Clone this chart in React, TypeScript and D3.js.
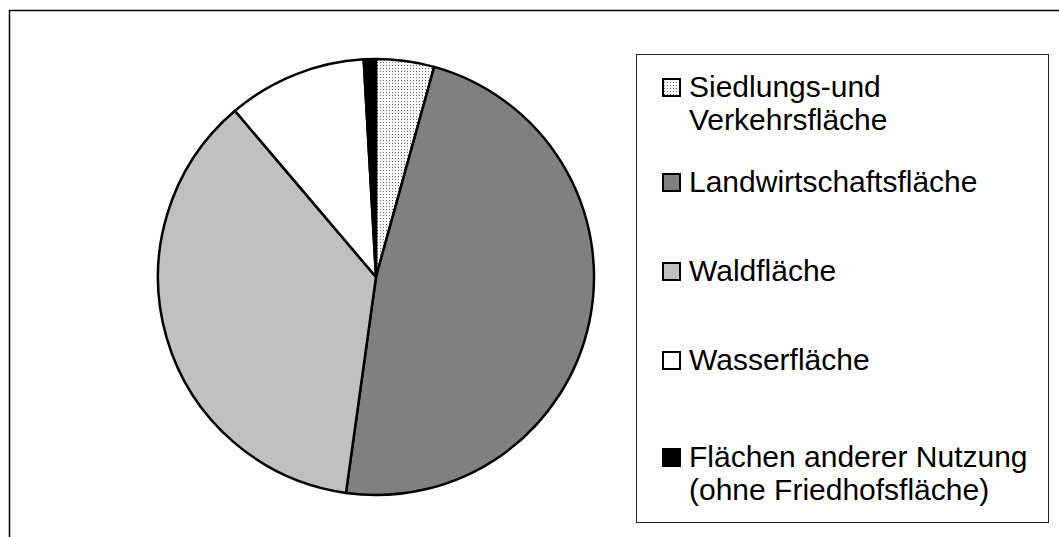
import React from "react";
import * as d3 from "d3";

const categories = [
  "Siedlungs-und Verkehrsfläche",
  "Landwirtschaftsfläche",
  "Waldfläche",
  "Wasserfläche",
  "Flächen anderer Nutzung (ohne Friedhofsfläche)",
];
const values = [4.3, 47.9, 36.6, 10.3, 0.9];
const legendLines = [
  ["Siedlungs-und", "Verkehrsfläche"],
  ["Landwirtschaftsfläche"],
  ["Waldfläche"],
  ["Wasserfläche"],
  ["Flächen anderer Nutzung", "(ohne Friedhofsfläche)"],
];
const fills = ["url(#dots)", "#808080", "#c0c0c0", "#ffffff", "#000000"];

const W = 1059;
const H = 537;
const cx = 376;
const cy = 277;
const R = 218;
const legendBaselines = [97, 192, 281, 370, 467];
const lineGap = 33;

export default function App() {
  const pie = d3
    .pie<number>()
    .sort(null)
    .value((d) => d)
    .startAngle(0)
    .endAngle(2 * Math.PI);
  const arcs = pie(values);
  const arc = d3.arc<d3.PieArcDatum<number>>().innerRadius(0).outerRadius(R);

  return (
    <svg
      width={W}
      height={H}
      style={{ position: "fixed", left: 0, top: 0, background: "#fff" }}
      fontFamily="'Liberation Sans', Arial, sans-serif"
    >
      <defs>
        <pattern id="dots" width={3} height={3} patternUnits="userSpaceOnUse">
          <rect width={3} height={3} fill="#ffffff" />
          <rect x={1} y={1} width={1} height={1} fill="#6a6a6a" />
        </pattern>
      </defs>
      <rect x={0} y={0} width={W} height={H} fill="#fff" />
      <rect
        x={9.5}
        y={10.5}
        width={W + 20}
        height={H + 20}
        fill="none"
        stroke="#000"
        strokeWidth={1.5}
      />
      <g transform={`translate(${cx},${cy})`}>
        {arcs.map((a, i) => (
          <path
            key={categories[i]}
            d={arc(a) || ""}
            fill={fills[i]}
            stroke="#000"
            strokeWidth={2.5}
            strokeLinejoin="round"
          />
        ))}
      </g>
      <rect
        x={636.5}
        y={54.5}
        width={412}
        height={468}
        fill="#fff"
        stroke="#222"
        strokeWidth={1}
      />
      {legendLines.map((lines, i) => {
        const b = legendBaselines[i];
        return (
          <g key={categories[i]}>
            <rect
              x={663}
              y={b - 18}
              width={17}
              height={17}
              fill={fills[i]}
              stroke="#000"
              strokeWidth={2}
            />
            {lines.map((t, j) => (
              <text key={j} x={689} y={b + j * lineGap} fontSize={30} fill="#000">
                {t}
              </text>
            ))}
          </g>
        );
      })}
    </svg>
  );
}
